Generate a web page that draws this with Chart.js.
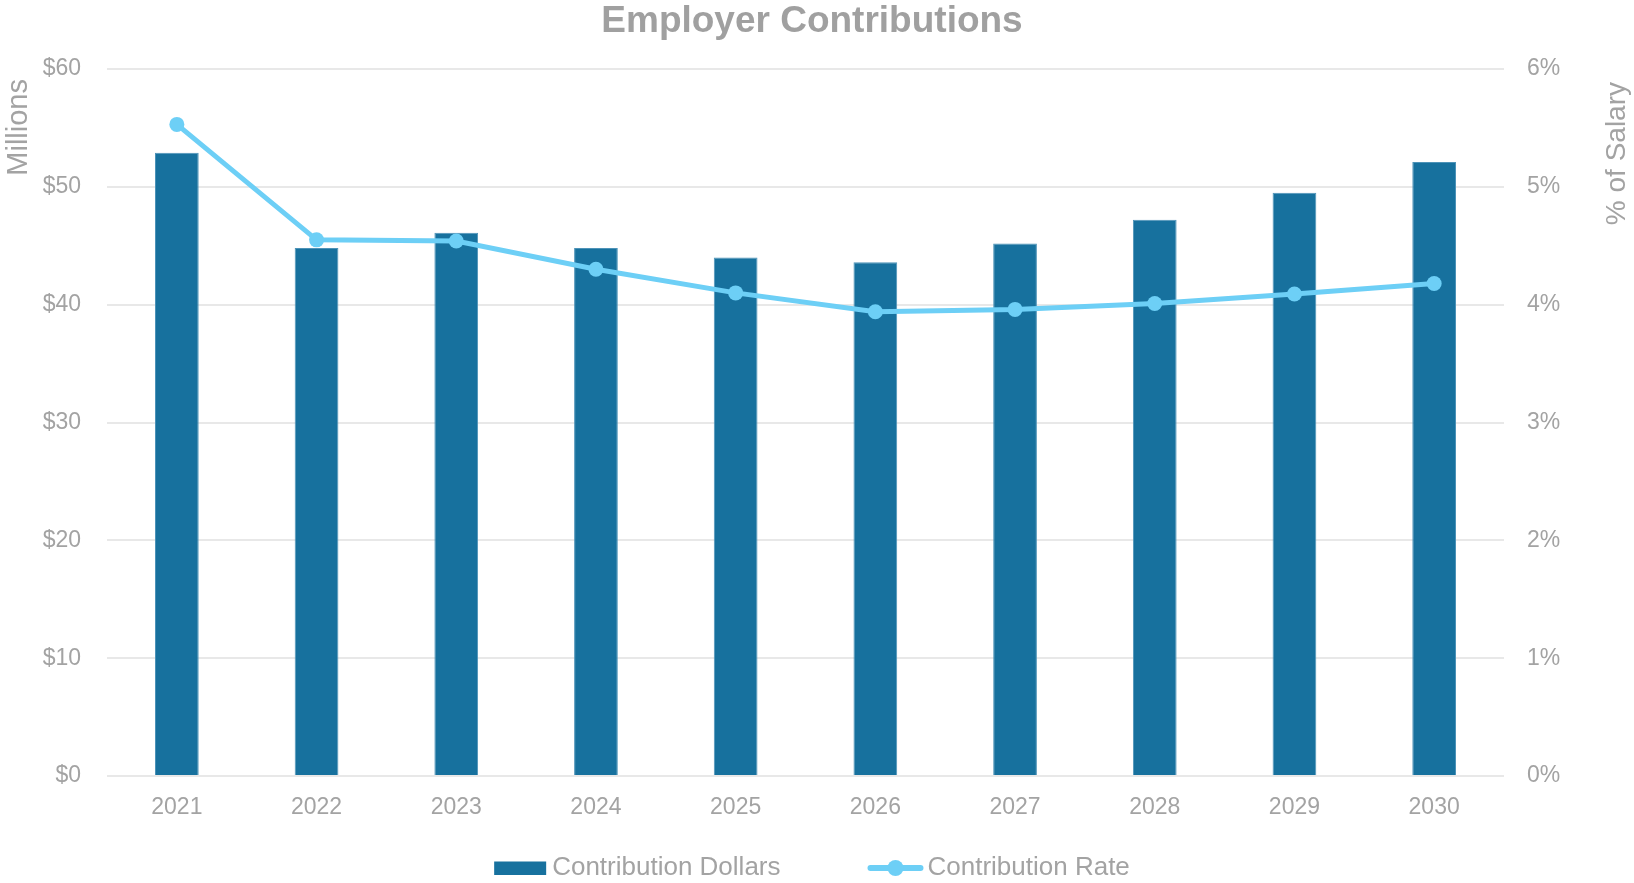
<!DOCTYPE html>
<html>
<head>
<meta charset="utf-8">
<title>Employer Contributions</title>
<script src="https://cdn.jsdelivr.net/npm/chart.js@4/dist/chart.umd.min.js"></script>
<style>
  html, body { margin: 0; padding: 0; background: #fff; }
  #wrap { width: 1634px; height: 883px; position: relative; }
</style>
</head>
<body>
<div id="wrap"><canvas id="contrib-chart"></canvas></div>
<script>
// plan years and projected employer contributions
var years = ['2021', '2022', '2023', '2024', '2025', '2026', '2027', '2028', '2029', '2030'];
var contributionDollars = [52.9, 44.8, 46.1, 44.8, 44.0, 43.6, 45.2, 47.2, 49.5, 52.1]; // $ millions
var contributionRate = [5.53, 4.55, 4.54, 4.30, 4.10, 3.94, 3.96, 4.01, 4.09, 4.18];   // % of salary

var FONT = '"Liberation Sans", Arial, Helvetica, sans-serif';
var GREY = '#a3a3a3';
var BAR_BLUE = '#17719e';
var LINE_BLUE = '#6dcff6';

// axis titles: both read bottom-to-top, pinned near the top of the plot
var axisTitles = {
  id: 'axisTitles',
  afterDraw: function(chart) {
    var ctx = chart.ctx;
    var top = chart.chartArea.top;
    ctx.save();
    ctx.fillStyle = GREY;
    ctx.textAlign = 'right';
    ctx.textBaseline = 'middle';

    ctx.save();
    ctx.font = '29px ' + FONT;
    ctx.translate(19, top + 10);
    ctx.rotate(-Math.PI / 2);
    ctx.fillText('Millions', 0, 0);
    ctx.restore();

    ctx.save();
    ctx.font = '28px ' + FONT;
    ctx.translate(chart.width - 17, top + 13);
    ctx.rotate(-Math.PI / 2);
    ctx.fillText('% of Salary', 0, 0);
    ctx.restore();

    ctx.restore();
  }
};

// legend row under the x axis, drawn by hand so the spacing can be wide
var bottomLegend = {
  id: 'bottomLegend',
  afterDraw: function(chart) {
    var ctx = chart.ctx;
    var sets = chart.data.datasets;
    var y = chart.height - 15;
    ctx.save();
    ctx.font = '26px ' + FONT;
    ctx.textBaseline = 'middle';
    ctx.textAlign = 'left';

    var w1 = ctx.measureText(sets[0].label).width;
    var w2 = ctx.measureText(sets[1].label).width;
    var total = 52 + 6 + w1 + 87 + 56 + 4 + w2;
    var x = (chart.width - 10) / 2 - total / 2;

    // bar swatch
    ctx.fillStyle = sets[0].backgroundColor;
    ctx.fillRect(x, y - 6.5, 52, 13.5);
    x += 58;
    ctx.fillStyle = GREY;
    ctx.fillText(sets[0].label, x, y);
    x += w1 + 87;

    // line swatch with marker
    ctx.strokeStyle = sets[1].borderColor;
    ctx.lineWidth = 6;
    ctx.lineCap = 'round';
    ctx.beginPath();
    ctx.moveTo(x + 3, y);
    ctx.lineTo(x + 53, y);
    ctx.stroke();
    ctx.fillStyle = sets[1].borderColor;
    ctx.beginPath();
    ctx.arc(x + 28, y, 8, 0, Math.PI * 2);
    ctx.fill();
    x += 60;
    ctx.fillStyle = GREY;
    ctx.fillText(sets[1].label, x, y);

    ctx.restore();
  }
};

var ctx = document.getElementById('contrib-chart').getContext('2d');
var chart = new Chart(ctx, {
  type: 'bar',
  data: {
    labels: years,
    datasets: [
      {
        type: 'bar',
        label: 'Contribution Dollars',
        data: contributionDollars,
        yAxisID: 'y',
        backgroundColor: BAR_BLUE,
        borderColor: '#4d93b8',
        borderWidth: { left: 1, right: 1, top: 1, bottom: 0 },
        categoryPercentage: 1,
        barPercentage: 0.313,
        order: 1
      },
      {
        type: 'line',
        label: 'Contribution Rate',
        data: contributionRate,
        yAxisID: 'y1',
        borderColor: LINE_BLUE,
        backgroundColor: LINE_BLUE,
        borderWidth: 5,
        pointRadius: 7.5,
        pointBorderWidth: 0,
        pointBackgroundColor: LINE_BLUE,
        tension: 0,
        order: 0
      }
    ]
  },
  options: {
    responsive: true,
    maintainAspectRatio: false,
    animation: false,
    layout: {
      padding: { left: 0, right: 10, top: 0, bottom: 38 }
    },
    plugins: {
      legend: { display: false },
      tooltip: { enabled: false },
      title: {
        display: true,
        text: 'Employer Contributions',
        color: '#a0a0a0',
        font: { family: FONT, size: 37, weight: 'bold' },
        padding: { top: 0, bottom: 24.6 }
      }
    },
    scales: {
      x: {
        grid: { display: false, drawTicks: false },
        border: { display: false },
        ticks: {
          color: GREY,
          font: { family: FONT, size: 23 },
          padding: 18
        },
        afterFit: function(scale) { scale.height = 69; }
      },
      y: {
        position: 'left',
        min: 0,
        max: 60,
        grid: { color: '#e8e8e8', lineWidth: 2, drawTicks: false },
        border: { display: false },
        ticks: {
          stepSize: 10,
          color: GREY,
          font: { family: FONT, size: 23 },
          padding: 26,
          callback: function(v) { return '$' + v; }
        },
        afterFit: function(scale) { scale.width = 107; }
      },
      y1: {
        position: 'right',
        min: 0,
        max: 6,
        grid: { display: false, drawTicks: false },
        border: { display: false },
        ticks: {
          stepSize: 1,
          color: GREY,
          font: { family: FONT, size: 23 },
          padding: 23,
          callback: function(v) { return v + '%'; }
        },
        afterFit: function(scale) { scale.width = 120; }
      }
    }
  },
  plugins: [axisTitles, bottomLegend]
});
</script>
</body>
</html>
